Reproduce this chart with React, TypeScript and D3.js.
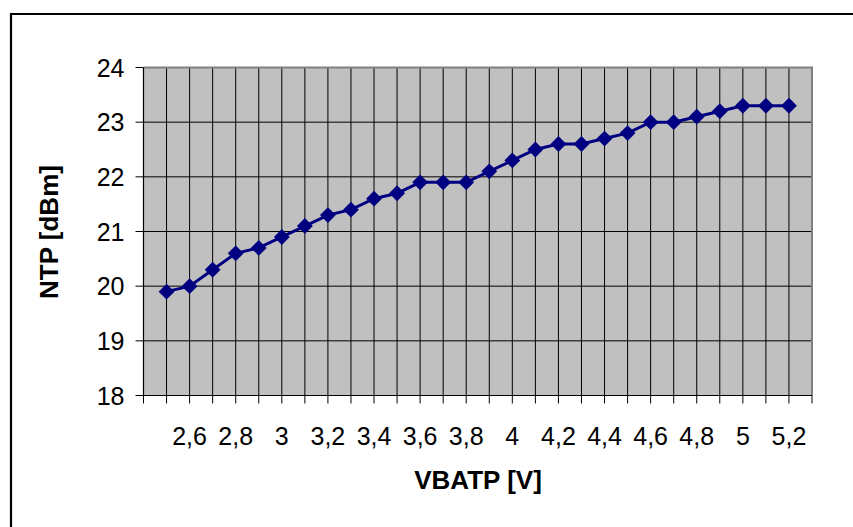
import React from 'react';
import * as d3 from 'd3';

const voltages = [2.5, 2.6, 2.7, 2.8, 2.9, 3.0, 3.1, 3.2, 3.3, 3.4, 3.5, 3.6, 3.7, 3.8, 3.9, 4.0, 4.1, 4.2, 4.3, 4.4, 4.5, 4.6, 4.7, 4.8, 4.9, 5.0, 5.1, 5.2];
const ntp = [19.9, 20.0, 20.3, 20.6, 20.7, 20.9, 21.1, 21.3, 21.4, 21.6, 21.7, 21.9, 21.9, 21.9, 22.1, 22.3, 22.5, 22.6, 22.6, 22.7, 22.8, 23.0, 23.0, 23.1, 23.2, 23.3, 23.3, 23.3];
const xTickValues = [2.4, 2.5, 2.6, 2.7, 2.8, 2.9, 3.0, 3.1, 3.2, 3.3, 3.4, 3.5, 3.6, 3.7, 3.8, 3.9, 4.0, 4.1, 4.2, 4.3, 4.4, 4.5, 4.6, 4.7, 4.8, 4.9, 5.0, 5.1, 5.2, 5.3];
const xLabelValues = [2.6, 2.8, 3.0, 3.2, 3.4, 3.6, 3.8, 4.0, 4.2, 4.4, 4.6, 4.8, 5.0, 5.2];
const yTickValues = [18, 19, 20, 21, 22, 23, 24];

const W = 853;
const H = 527;
const plot = { left: 143.5, right: 812, top: 67.5, bottom: 395.5 };
const font = "'Liberation Sans', Arial, sans-serif";

const fmt = (v: number) => String(+v.toFixed(1)).replace('.', ',');

export default function App() {
  const x = d3.scaleLinear().domain([2.4, 5.3]).range([plot.left, plot.right]);
  const y = d3.scaleLinear().domain([18, 24]).range([plot.bottom, plot.top]);
  const pts = voltages.map((v, i) => [x(v), y(ntp[i])] as [number, number]);
  const line = d3.line()(pts) || '';
  const diamond = d3.symbol().type(d3.symbolDiamond2).size(160)() || '';

  return (
    <svg width={W} height={H} style={{ position: 'absolute', left: 0, top: 0, background: '#fff' }}>
      {/* chart area border */}
      <path d={`M11,${H + 5} V14 H${W + 5}`} fill="none" stroke="#000" strokeWidth={2.2} />

      {/* plot area */}
      <rect x={plot.left} y={plot.top} width={plot.right - plot.left} height={plot.bottom - plot.top} fill="#c0c0c0" />

      {/* gridlines */}
      {xTickValues.slice(1, -1).map(v => (
        <line key={'gx' + v} x1={x(v)} x2={x(v)} y1={plot.top} y2={plot.bottom} stroke="#000" strokeWidth={1} />
      ))}
      {yTickValues.slice(1, -1).map(v => (
        <line key={'gy' + v} x1={plot.left} x2={plot.right} y1={y(v)} y2={y(v)} stroke="#000" strokeWidth={1} />
      ))}

      {/* plot border top/right */}
      <path d={`M${plot.left},${plot.top} H${plot.right} V${plot.bottom}`} fill="none" stroke="#808080" strokeWidth={2} />

      {/* axes */}
      <line x1={plot.left} x2={plot.left} y1={plot.top} y2={plot.bottom} stroke="#000" strokeWidth={1.2} />
      <line x1={plot.left} x2={plot.right} y1={plot.bottom} y2={plot.bottom} stroke="#000" strokeWidth={1.2} />
      {yTickValues.map(v => (
        <g key={'ty' + v}>
          <line x1={plot.left - 8} x2={plot.left} y1={y(v)} y2={y(v)} stroke="#000" />
          <text x={plot.left - 19} y={y(v)} dy="0.36em" textAnchor="end" fontFamily={font} fontSize={25}>{v}</text>
        </g>
      ))}
      {xTickValues.map(v => (
        <line key={'tx' + v} x1={x(v)} x2={x(v)} y1={plot.bottom} y2={plot.bottom + 8} stroke="#000" />
      ))}
      {xLabelValues.map(v => (
        <text key={'lx' + v} x={x(v)} y={445} textAnchor="middle" fontFamily={font} fontSize={25}>{fmt(v)}</text>
      ))}

      {/* series */}
      <path d={line} fill="none" stroke="#000080" strokeWidth={3} />
      {pts.map(([px, py], i) => (
        <path key={'m' + i} d={diamond} transform={`translate(${px},${py})`} fill="#000080" />
      ))}

      {/* axis titles */}
      <text x={478} y={489} textAnchor="middle" fontFamily={font} fontSize={26} fontWeight="bold">VBATP [V]</text>
      <text transform="translate(58,232) rotate(-90)" textAnchor="middle" fontFamily={font} fontSize={26} fontWeight="bold">NTP [dBm]</text>
    </svg>
  );
}
